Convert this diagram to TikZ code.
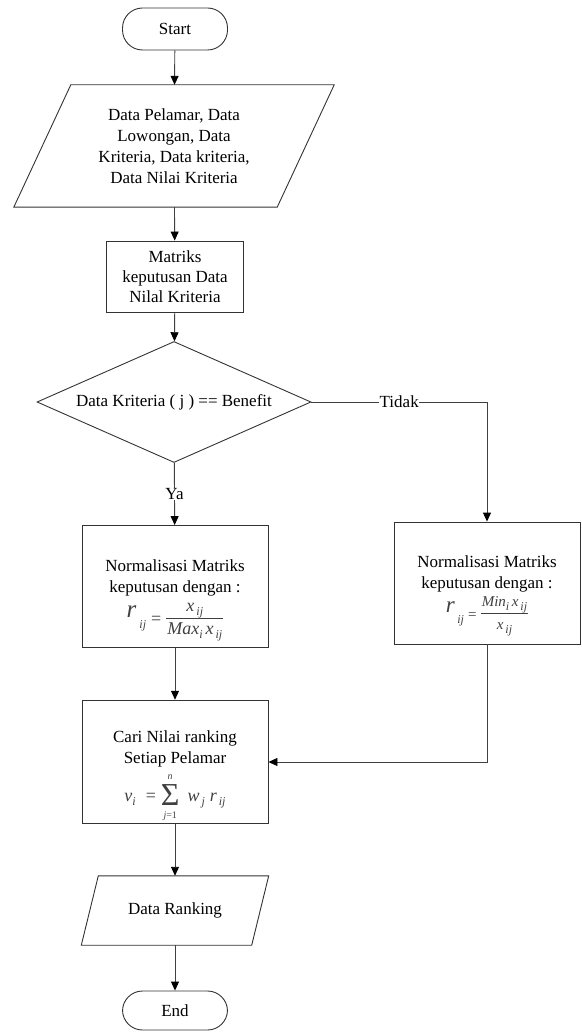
\documentclass[tikz,border=0pt]{standalone}
\usepackage{fontspec}
\setmainfont{Liberation Serif}
\usetikzlibrary{shapes.geometric,arrows.meta,calc}
\newcommand{\fsub}[1]{\raisebox{-4pt}{\fontsize{12}{12}\selectfont #1}}
\newcommand{\ffrac}[2]{{\setlength{\arrayrulewidth}{0.7pt}\setlength{\tabcolsep}{1pt}\renewcommand{\arraystretch}{0.9}\begin{tabular}[c]{c}#1\\\hline\rule{0pt}{16pt}#2\end{tabular}}}
\newcommand{\fsum}{{\renewcommand{\arraystretch}{0.5}\setlength{\tabcolsep}{0pt}\begin{tabular}[c]{c}{\fontsize{10}{10}\selectfont n}\\[2pt]{\fontsize{32}{32}\selectfont\upshape Σ}\\[3pt]{\fontsize{10}{10}\selectfont j\upshape =1}\end{tabular}}}
\begin{document}
\begin{tikzpicture}[x=1pt,y=-1pt,
  font=\fontsize{17}{21}\selectfont,
  outline/.style={draw=black!80, line width=0.9pt},
  box/.style={outline, align=center, inner sep=2pt},
  term/.style={box, rounded corners=20pt, minimum width=105pt, minimum height=42pt},
  proc/.style={box, rectangle, minimum width=186pt, minimum height=122pt},
  io/.style={align=center, inner sep=0pt},
  decision/.style={box, diamond, aspect=2.26, minimum width=274pt, minimum height=121pt, inner sep=0pt},
  conn/.style={draw=black!75, line width=0.9pt, -{Triangle[length=9pt,width=8pt,fill=black,color=black]}},
  lbl/.style={fill=white, inner sep=0.5pt}
]
\useasboundingbox (0,0) rectangle (581,1032);

\node[term] (start) at (175,29) {Start};

\node[io, minimum width=263pt, minimum height=122pt] (in1) at (174,146)
  {Data Pelamar, Data\\Lowongan, Data\\Kriteria, Data kriteria,\\Data Nilai Kriteria};
\draw[outline] ($(in1.north west)+(28.5,0)$) -- ($(in1.north east)+(28.5,0)$)
  -- ($(in1.south east)+(-28.5,0)$) -- ($(in1.south west)+(-28.5,0)$) -- cycle;

\node[box, minimum width=137pt, minimum height=71pt, font=\fontsize{17}{20}\selectfont] (m1) at (175,276.5)
  {Matriks\\keputusan Data\\Nilal Kriteria};

\node[decision] (dec) at (174,402) {Data Kriteria ( j ) == Benefit};

\node[proc] (n1) at (175,586.5)
  {\rule{0pt}{40pt}Normalisasi Matriks\\keputusan dengan :\\[2pt]
   {\color{black!75}\fontsize{18}{20}\selectfont\itshape\raisebox{7pt}{\fontsize{25}{25}\selectfont r}\,\fsub{ij}\;{\upshape=}\;\ffrac{x\fsub{\,ij}}{Max\fsub{i}\,x\fsub{\,ij}}}};

\node[proc] (n2) at (487,583)
  {\rule{0pt}{38pt}Normalisasi Matriks\\keputusan dengan :\\[2pt]
   {\color{black!75}\fontsize{15}{18}\selectfont\itshape\raisebox{7pt}{\fontsize{23}{23}\selectfont r}\,\fsub{ij}\;{\upshape=}\;\ffrac{Min\fsub{i}\,x\fsub{\,ij}}{x\fsub{\,ij}}}};

\node[proc] (cari) at (175,762)
  {\rule{0pt}{40pt}Cari Nilai ranking\\Setiap Pelamar\\[5pt]
   {\color{black!75}\fontsize{18}{20}\selectfont\itshape v\fsub{i}\;\;{\upshape=}\;\fsum\;\,w\fsub{\,j}\;r\fsub{\,ij}}};

\node[io, minimum width=170pt, minimum height=69pt] (out) at (175,910.5) {Data Ranking};
\draw[outline] ($(out.north west)+(8.5,0)$) -- ($(out.north east)+(8.5,0)$)
  -- ($(out.south east)+(-8.5,0)$) -- ($(out.south west)+(-8.5,0)$) -- cycle;

\node[term, minimum height=39pt] (end) at (175,1010.5) {End};

\draw[conn] (start) -- (in1);
\draw[conn] (in1) -- (m1);
\draw[conn] (m1) -- (dec);
\draw[conn] (dec) -- node[lbl] {Ya} (n1);
\draw[conn] (dec) -| node[lbl, pos=0.25] {Tidak} (n2);
\draw[conn] (n1) -- (cari);
\draw[conn] (n2) |- (cari);
\draw[conn] (cari) -- (out);
\draw[conn] (out) -- (end);
\end{tikzpicture}
\end{document}
